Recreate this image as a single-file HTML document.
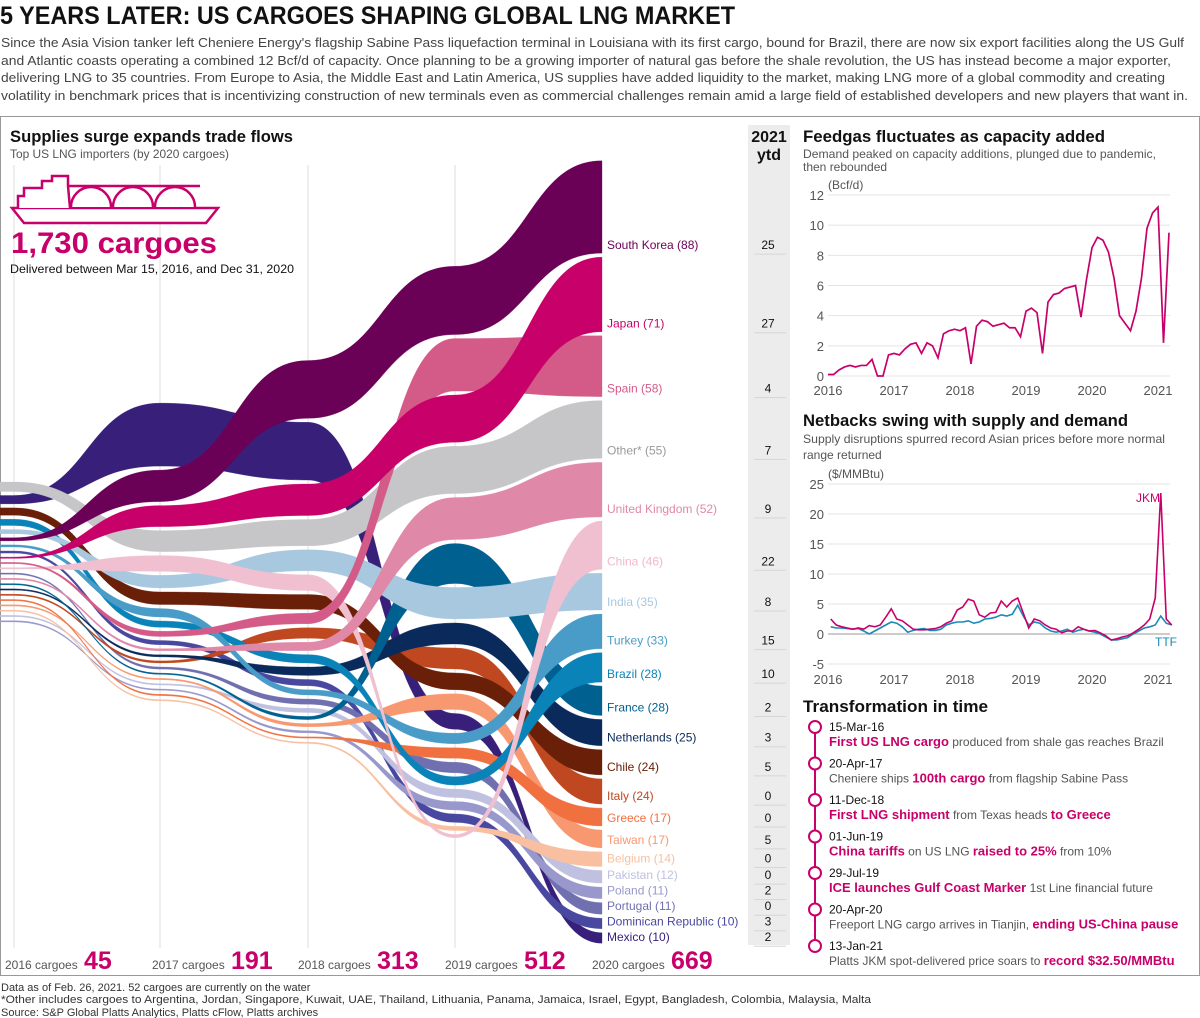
<!DOCTYPE html>
<html><head><meta charset="utf-8"><style>
html,body{margin:0;padding:0;background:#fff;}
svg{display:block;font-family:"Liberation Sans",sans-serif;}
</style></head><body>
<svg id="root" width="1200" height="1018" viewBox="0 0 1200 1018">
<g>
<text x="0" y="24" font-size="25" font-weight="bold" fill="#111" textLength="735" lengthAdjust="spacingAndGlyphs">5 YEARS LATER: US CARGOES SHAPING GLOBAL LNG MARKET</text>
<g font-size="13" fill="#444">
<text x="1" y="47" textLength="1183" lengthAdjust="spacingAndGlyphs">Since the Asia Vision tanker left Cheniere Energy's flagship Sabine Pass liquefaction terminal in Louisiana with its first cargo, bound for Brazil, there are now six export facilities along the US Gulf</text>
<text x="1" y="65" textLength="1170" lengthAdjust="spacingAndGlyphs">and Atlantic coasts operating a combined 12 Bcf/d of capacity. Once planning to be a growing importer of natural gas before the shale revolution, the US has instead become a major exporter,</text>
<text x="1" y="82" textLength="1164" lengthAdjust="spacingAndGlyphs">delivering LNG to 35 countries. From Europe to Asia, the Middle East and Latin America, US supplies have added liquidity to the market, making LNG more of a global commodity and creating</text>
<text x="1" y="100" textLength="1187" lengthAdjust="spacingAndGlyphs">volatility in benchmark prices that is incentivizing construction of new terminals even as commercial challenges remain amid a large field of established developers and new players that want in.</text>
</g>
</g>
<rect x="0.5" y="116.5" width="1199" height="859" fill="none" stroke="#999"/>
<rect x="748" y="125" width="42" height="820" fill="#ececec"/>
<text x="769" y="142" font-size="16" font-weight="bold" text-anchor="middle" fill="#111">2021</text>
<text x="769" y="160" font-size="16" font-weight="bold" text-anchor="middle" fill="#111">ytd</text>

<text x="10" y="142" font-size="17" font-weight="bold" fill="#111" textLength="283" lengthAdjust="spacingAndGlyphs">Supplies surge expands trade flows</text>
<text x="10" y="158" font-size="12" fill="#555" textLength="219" lengthAdjust="spacingAndGlyphs">Top US LNG importers (by 2020 cargoes)</text>

<g id="grid-flows"></g>
<g id="bands"></g>
<g id="labels"></g>

<g fill="#fff" stroke="#c8006a" stroke-width="2.5">
<path d="M12,208 L218,208 L206,223 L24,223 Z"/>
<path d="M18,208 L18,196 L24,196 L24,188 L42,188 L42,181 L52,181 L52,176 L68,176 L68,186 L70,208"/>
<path d="M68,186 L200,186"/>
<path d="M71,207 A20,20 0 0 1 111,207 M113,207 A20,20 0 0 1 153,207 M155,207 A20,20 0 0 1 195,207"/>
</g>
<text x="11" y="253" font-size="30" font-weight="bold" fill="#c8006a" textLength="206" lengthAdjust="spacingAndGlyphs">1,730 cargoes</text>
<text x="10" y="273" font-size="12" fill="#111" textLength="284" lengthAdjust="spacingAndGlyphs">Delivered between Mar 15, 2016, and Dec 31, 2020</text>

<g id="yearlabels"></g>

<text x="803" y="142" font-size="17" font-weight="bold" fill="#111" textLength="302" lengthAdjust="spacingAndGlyphs">Feedgas fluctuates as capacity added</text>
<text x="803" y="158" font-size="12" fill="#555" textLength="353" lengthAdjust="spacingAndGlyphs">Demand peaked on capacity additions, plunged due to pandemic,</text>
<text x="803" y="171" font-size="12" fill="#555">then rebounded</text>
<text x="828" y="189" font-size="12" fill="#555">(Bcf/d)</text>
<g id="feedgas"></g>

<text x="803" y="426" font-size="17" font-weight="bold" fill="#111" textLength="325" lengthAdjust="spacingAndGlyphs">Netbacks swing with supply and demand</text>
<text x="803" y="443" font-size="12" fill="#555" textLength="362" lengthAdjust="spacingAndGlyphs">Supply disruptions spurred record Asian prices before more normal</text>
<text x="803" y="459" font-size="12" fill="#555">range returned</text>
<text x="828" y="478" font-size="12" fill="#555">($/MMBtu)</text>
<g id="netbacks"></g>

<text x="803" y="712" font-size="17" font-weight="bold" fill="#111" textLength="185" lengthAdjust="spacingAndGlyphs">Transformation in time</text>
<line x1="815" y1="727" x2="815" y2="946" stroke="#c8006a" stroke-width="2"/>
<g id="timeline"></g>

<g font-size="11" fill="#333">
<text x="1" y="991">Data as of Feb. 26, 2021. 52 cargoes are currently on the water</text>
<text x="1" y="1003" textLength="870" lengthAdjust="spacingAndGlyphs">*Other includes cargoes to Argentina, Jordan, Singapore, Kuwait, UAE, Thailand, Lithuania, Panama, Jamaica, Israel, Egypt, Bangladesh, Colombia, Malaysia, Malta</text>
<text x="1" y="1016">Source: S&amp;P Global Platts Analytics, Platts cFlow, Platts archives</text>
</g>
</svg>
<script>
const NS="http://www.w3.org/2000/svg";
const years=["2016","2017","2018","2019","2020"];
const yearTotals=[45,191,313,512,669];
const countries=["South Korea","Japan","Spain","Other*","United Kingdom","China","India","Turkey","Brazil","France","Netherlands","Chile","Italy","Greece","Taiwan","Belgium","Pakistan","Poland","Portugal","Dominican Republic","Mexico"];
const colors=["#6b0057","#c8006a","#d45a88","#c6c6c8","#e088a8","#f0c0d0","#a8c8e0","#4a9cc8","#0a84b8","#006090","#0a2a5c","#6a2008","#c04820","#f07040","#f89870","#f8c0a0","#c0c0e0","#9898cc","#7070b0","#4848a0","#38207a"];
const labelColors=["#6b0057","#c8006a","#d45a88","#999999","#e088a8","#f0b8cc","#a8c8e0","#4a9cc8","#0a84b8","#006090","#0a2a5c","#6a2008","#c04820","#f07040","#f89870","#f8c0a0","#c0c0e0","#9898cc","#7070b0","#4848a0","#38207a"];
const vals2016=[3,1,1,9,0,1,4,2,6,0,0,7,0,0,0,0,0,0,1,2,8];
const vals2017=[30,20,5,20,2,15,12,8,6,1,2,12,2,0,1,0,1,1,2,4,60];
const vals2018=[55,30,10,25,8,15,20,5,8,3,8,14,10,1,3,0,4,2,5,6,55];
const vals2019=[65,45,50,45,40,3,30,10,8,38,20,16,20,10,15,4,8,8,10,8,15];
const vals2020=[88,71,58,55,52,46,35,33,28,28,25,24,24,17,17,14,12,11,11,10,10];
const ytd2021=[25,27,4,7,9,22,8,15,10,2,3,5,0,0,5,0,0,2,0,3,2];
const allVals=[vals2016,vals2017,vals2018,vals2019,vals2020];
const colX=[14,160,308,455,602];
const K=1.05, GAP=4, MINH=1.3, CENTER=552;
function mk(tag,attrs,parent){const e=document.createElementNS(NS,tag);for(const a in attrs)e.setAttribute(a,attrs[a]);parent.appendChild(e);return e;}
function layout(vals){
  const idx=vals.map((v,i)=>i).sort((a,b)=>vals[b]-vals[a]||a-b);
  const h=vals.map(v=>Math.max(v*K,MINH));
  const total=h.reduce((s,x)=>s+x,0)+GAP*(vals.length-1);
  let y=CENTER-total/2;const top=[],bot=[];
  idx.forEach(i=>{top[i]=y;bot[i]=y+h[i];y+=h[i]+GAP;});
  return {top,bot};
}
const lays=allVals.map(layout);
const gridG=document.getElementById('grid-flows');
colX.slice(0,4).forEach((x,j)=>{const l=mk('line',{x1:x,y1:165,x2:x,y2:948,stroke:'#ddd','stroke-width':1},gridG);

});
const bandG=document.getElementById('bands');
for(let c=countries.length-1;c>=0;c--){
  const tops=[],bots=[];
  for(let j=0;j<5;j++){tops.push(lays[j].top[c]);bots.push(lays[j].bot[c]);}
  let d='M0,'+tops[0]+' L'+colX[0]+','+tops[0];
  for(let j=0;j<4;j++){const xm=(colX[j]+colX[j+1])/2;d+=' C'+xm+','+tops[j]+' '+xm+','+tops[j+1]+' '+colX[j+1]+','+tops[j+1];}
  d+=' L'+colX[4]+','+bots[4];
  for(let j=4;j>0;j--){const xm=(colX[j]+colX[j-1])/2;d+=' C'+xm+','+bots[j]+' '+xm+','+bots[j-1]+' '+colX[j-1]+','+bots[j-1];}
  d+=' L0,'+bots[0]+' Z';
  const p=mk('path',{d:d,fill:colors[c],stroke:colors[c],'stroke-width':0.3},bandG);
  
  
}
const labG=document.getElementById('labels');
let prev=0;
const order=countries.map((_,i)=>i).sort((a,b)=>lays[4].top[a]-lays[4].top[b]);
order.forEach(c=>{
  let y=Math.max(lays[4].bot[c]-4,prev+15.5);prev=y;
  const t=mk('text',{x:607,y:y,'font-size':12,fill:labelColors[c]},labG);
  t.textContent=countries[c]+' ('+vals2020[c]+')';
  
  
  const n=mk('text',{x:768,y:y,'font-size':12,'text-anchor':'middle',fill:'#111'},labG);
  n.textContent=ytd2021[c];
  
  
  const ul=mk('line',{x1:754,y1:y+5,x2:786,y2:y+5,stroke:'#d6d6d6'},labG);
  
  
});
const ylG=document.getElementById('yearlabels');
const yLabX=[5,152,298,445,592];
years.forEach((yr,j)=>{
  const t=mk('text',{x:yLabX[j],y:969,'font-size':12,fill:'#555'},ylG);t.textContent=yr+' cargoes';
  
  
  const n=mk('text',{x:yLabX[j]+79,y:969,'font-size':25,'font-weight':'bold',fill:'#c8006a'},ylG);n.textContent=yearTotals[j];
  
  
});

/* Feedgas: monthly Jan 2016 .. Feb 2021 */
const feedgasMonthly=[0.1,0.1,0.4,0.6,0.7,0.6,0.7,0.7,1.1,0.0,0.0,1.4,
1.5,1.4,1.8,2.1,2.2,1.5,2.2,2.0,1.2,2.8,3.0,3.1,
3.0,3.2,0.8,3.3,3.7,3.6,3.3,3.4,3.5,3.2,3.2,2.6,
4.3,4.5,4.2,1.5,4.9,5.4,5.5,5.8,5.9,6.0,3.9,6.4,
8.5,9.2,9.0,8.2,6.5,4.0,3.5,3.0,4.3,6.5,9.8,10.8,
11.2,2.2,9.5];
const feedTicks=[0,2,4,6,8,10,12];
const fg=document.getElementById('feedgas');
const fx=i=>828+i*(66/12);const fy=v=>376-v*(181/12);
feedTicks.forEach(t=>{const l=mk('line',{x1:828,x2:1170,y1:fy(t),y2:fy(t),stroke:'#e4e4e4'},fg);

const tx=mk('text',{x:824,y:fy(t)+5,'font-size':13,'text-anchor':'end',fill:'#555'},fg);tx.textContent=t;
});
years.concat(["2021"]).forEach((yr,j)=>{const tx=mk('text',{x:828+66*j,y:395,'font-size':13,'text-anchor':'middle',fill:'#555'},fg);tx.textContent=yr;
});
const fpl=mk('polyline',{points:feedgasMonthly.map((v,i)=>fx(i)+','+fy(v)).join(' '),fill:'none',stroke:'#c8006a','stroke-width':1.7},fg);


/* Netbacks */
const jkmMonthly=[2.5,1.5,1.2,1.0,0.8,1.0,0.8,1.4,1.2,1.5,2.8,4.2,
2.5,2.2,1.5,0.8,0.7,0.7,0.8,0.9,1.2,1.8,2.2,4.0,
4.5,5.8,5.5,3.2,2.8,3.5,3.6,5.5,4.5,5.5,6.0,3.5,
1.0,2.5,2.2,1.5,1.0,0.8,0.2,0.5,0.5,1.2,0.8,0.5,
0.6,0.2,-0.3,-1.0,-0.8,-0.5,-0.3,0.2,0.8,1.5,2.5,6.0,
23.5,2.5,1.5];
const ttfMonthly=[1.2,1.0,1.0,0.9,0.8,0.9,0.5,0.0,0.5,1.0,1.5,2.0,
1.8,1.2,0.3,0.6,0.8,0.9,0.6,0.6,0.8,1.5,1.8,2.0,
2.0,2.2,1.8,2.0,2.5,2.6,2.8,3.2,3.0,3.3,4.8,3.0,
1.5,2.0,1.8,1.0,0.5,0.3,0.5,0.8,0.3,0.6,0.8,0.5,
0.3,0.0,-0.5,-1.0,-1.0,-0.8,-0.6,0.0,0.5,1.0,1.2,1.5,
3.0,1.8,1.5];
const netTicks=[-5,0,5,10,15,20,25];
const ng=document.getElementById('netbacks');
const nx=i=>828+i*(66/12);const ny=v=>634-v*6;
netTicks.forEach(t=>{const l=mk('line',{x1:828,x2:1170,y1:ny(t),y2:ny(t),stroke:t===0?'#999':'#e4e4e4'},ng);

const tx=mk('text',{x:824,y:ny(t)+5,'font-size':13,'text-anchor':'end',fill:'#555'},ng);tx.textContent=t;
});
years.concat(["2021"]).forEach((yr,j)=>{const tx=mk('text',{x:828+66*j,y:684,'font-size':13,'text-anchor':'middle',fill:'#555'},ng);tx.textContent=yr;
});
const tl=mk('polyline',{points:ttfMonthly.map((v,i)=>nx(i+0.5)+','+ny(v)).join(' '),fill:'none',stroke:'#1a8ab8','stroke-width':1.6},ng);

const jl=mk('polyline',{points:jkmMonthly.map((v,i)=>nx(i+0.5)+','+ny(v)).join(' '),fill:'none',stroke:'#c8006a','stroke-width':1.6},ng);

const jt=mk('text',{x:1136,y:502,'font-size':12,fill:'#c8006a'},ng);jt.textContent='JKM';

const tt=mk('text',{x:1155,y:646,'font-size':12,fill:'#1a8ab8'},ng);tt.textContent='TTF';


/* Timeline */
const tdates=["15-Mar-16","20-Apr-17","11-Dec-18","01-Jun-19","29-Jul-19","20-Apr-20","13-Jan-21"];
const tevents=[
 [["First US LNG cargo",1],[" produced from shale gas reaches Brazil",0]],
 [["Cheniere ships ",0],["100th cargo",1],[" from flagship Sabine Pass",0]],
 [["First LNG shipment",1],[" from Texas heads ",0],["to Greece",1]],
 [["China tariffs",1],[" on US LNG ",0],["raised to 25%",1],[" from 10%",0]],
 [["ICE launches Gulf Coast Marker",1],[" 1st Line financial future",0]],
 [["Freeport LNG cargo arrives in Tianjin, ",0],["ending US-China pause",1]],
 [["Platts JKM spot-delivered price soars to ",0],["record $32.50/MMBtu",1]]];
const tlg=document.getElementById('timeline');
tdates.forEach((d,i)=>{const y=727+i*36.5;
 const c=mk('circle',{cx:815,cy:y,r:6,fill:'#fff',stroke:'#c8006a','stroke-width':2},tlg);
 
 const dt=mk('text',{x:829,y:y+4,'font-size':12,fill:'#111'},tlg);dt.textContent=d;
 
 const ev=mk('text',{x:829,y:y+19,'font-size':12,fill:'#555'},tlg);
 
 tevents[i].forEach(([s,b])=>{const sp=mk('tspan',b?{'font-weight':'bold',fill:'#c8006a','font-size':13}:{},ev);sp.textContent=s;});
});
</script>
</body></html>
